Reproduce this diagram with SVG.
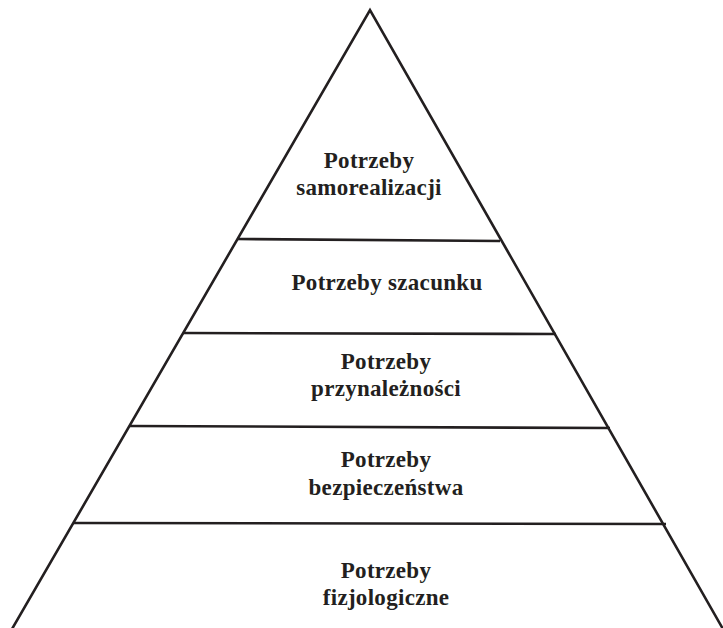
<svg xmlns="http://www.w3.org/2000/svg" width="723" height="628" viewBox="0 0 723 628">
<style>
.ln{stroke:#231f20;stroke-width:2.6;fill:none;stroke-linecap:butt}
.t{font-family:"Liberation Serif","Times New Roman",serif;font-weight:bold;font-size:23px;fill:#231f20;text-anchor:middle;letter-spacing:0.3px}
</style>
<rect width="723" height="628" fill="#fff"/>
<g id="connectors">
<polyline class="ln" points="12,629 370,10 723,629" stroke-linejoin="miter"/>
<line class="ln" x1="237" y1="239" x2="500" y2="241"/>
<line class="ln" x1="183" y1="333" x2="556" y2="334"/>
<line class="ln" x1="130" y1="426" x2="610" y2="428"/>
<line class="ln" x1="73" y1="523" x2="666" y2="524"/>
</g>
<g id="n1"><text class="t" x="369" y="168">Potrzeby</text><text class="t" x="369" y="195">samorealizacji</text></g>
<g id="n2"><text class="t" x="387" y="290">Potrzeby szacunku</text></g>
<g id="n3"><text class="t" x="386" y="369">Potrzeby</text><text class="t" x="386" y="396">przynależności</text></g>
<g id="n4"><text class="t" x="386" y="467">Potrzeby</text><text class="t" x="386" y="495">bezpieczeństwa</text></g>
<g id="n5"><text class="t" x="386" y="578">Potrzeby</text><text class="t" x="386" y="605">fizjologiczne</text></g>
</svg>
